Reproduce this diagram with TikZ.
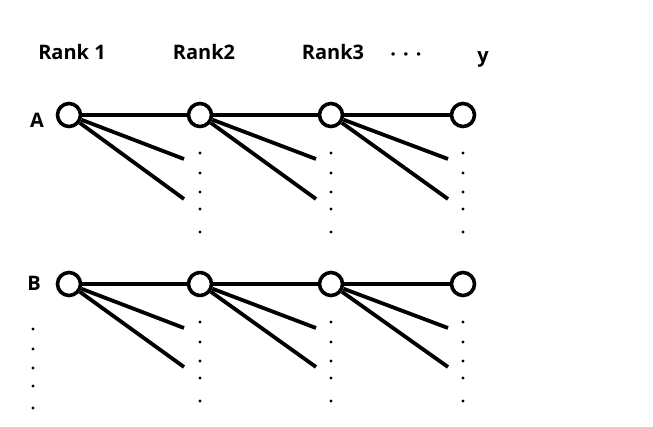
\documentclass[tikz,border=0pt]{standalone}
\usepackage{fontspec}
\setmainfont{Open Sans}
\tikzset{
  knot/.style={circle, draw, line width=3.6pt, minimum size=23pt, inner sep=0pt, fill=white},
  link/.style={line width=3.8pt},
  lbl/.style={font=\bfseries\fontsize{20}{22}\selectfont, inner sep=0pt},
}
\begin{document}
\begin{tikzpicture}[x=1pt,y=-1pt]
	    \useasboundingbox (0,0) rectangle (653,427);
	    % column headers
	    \node[lbl] (r1) at (72,52) {Rank 1};
	    \node[lbl] (r2) at (204,52) {Rank2};
	    \node[lbl] (r3) at (333,52) {Rank3};
	    \node[lbl, anchor=base] (etc) at (406,62) {·\hspace{7pt}·\hspace{7pt}·};
	    \node[lbl] (ry) at (483,59) {y};
	    % row labels
	    \node[lbl] (la) at (37,120) {A};
	    \node[lbl] (lb) at (34,283) {B};
	    % row A
	    \node[knot] (a1) at (69,115) {};
	    \node[knot] (a2) at (200,115) {};
	    \node[knot] (a3) at (331,115) {};
	    \node[knot] (a4) at (463,115) {};
	    \draw[link] (a1) -- (a2) -- (a3) -- (a4);
	    % row B
	    \node[knot] (b1) at (69,284) {};
	    \node[knot] (b2) at (200,284) {};
	    \node[knot] (b3) at (331,284) {};
	    \node[knot] (b4) at (463,284) {};
	    \draw[link] (b1) -- (b2) -- (b3) -- (b4);
	    % ends of the fan lines
	    \coordinate (ea1) at (184,159);  \coordinate (fa1) at (184,199);
	    \coordinate (ea2) at (316,159);  \coordinate (fa2) at (316,199);
	    \coordinate (ea3) at (448,159);  \coordinate (fa3) at (448,199);
	    \coordinate (eb1) at (184,328);  \coordinate (fb1) at (184,367);
	    \coordinate (eb2) at (316,328);  \coordinate (fb2) at (316,367);
	    \coordinate (eb3) at (448,328);  \coordinate (fb3) at (448,367);
	    \draw[link] (a1) -- (ea1); \draw[link] (a1) -- (fa1);
	    \draw[link] (a2) -- (ea2); \draw[link] (a2) -- (fa2);
	    \draw[link] (a3) -- (ea3); \draw[link] (a3) -- (fa3);
	    \draw[link] (b1) -- (eb1); \draw[link] (b1) -- (fb1);
	    \draw[link] (b2) -- (eb2); \draw[link] (b2) -- (fb2);
	    \draw[link] (b3) -- (eb3); \draw[link] (b3) -- (fb3);
	    % vertical dots under the knots
	    \foreach \x in {200,331,463} {
	        \foreach \y in {38,58,77,94,117} {
	            \fill (\x,115+\y) circle (1.7pt);
	            \fill (\x,284+\y) circle (1.7pt);
	        }
	    }
	    % dots under B
	    \foreach \y in {329,349,368,386,408}
	        \fill (33,\y) circle (1.7pt);
	\end{tikzpicture}
\end{document}
